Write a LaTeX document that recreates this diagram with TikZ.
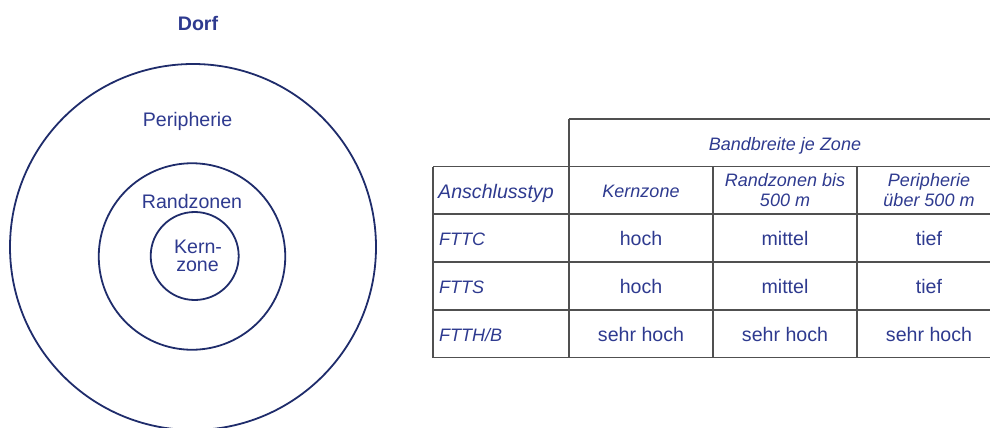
\documentclass[tikz,border=0pt]{standalone}
\usepackage{fontspec}
\setmainfont{Liberation Sans}
\definecolor{ink}{HTML}{2E3A8F}
\definecolor{ring}{HTML}{1F2C6B}
\definecolor{rule}{HTML}{505050}
\begin{document}
\begin{tikzpicture}[x=1pt,y=-1pt,
  lbl/.style={text=ink,font=\fontsize{19.6}{20}\selectfont,inner sep=0pt,anchor=base},
  hd/.style={lbl,font=\fontsize{18}{20}\selectfont\itshape},
  rowhd/.style={hd,anchor=base west},
  zone/.style={draw=ring,line width=1.8pt,circle,inner sep=0pt},
  grid/.style={draw=rule,line width=1.5pt}]
\useasboundingbox (0,0) rectangle (990,428);

% village zones
\node[zone,minimum size=366pt] (outer) at (193,247) {};
\node[zone,minimum size=186.5pt] (middle) at (192,256.5) {};
\node[zone,minimum size=88pt] (inner) at (194.7,256) {};
\node[lbl,font=\fontsize{19.6}{20}\selectfont\bfseries] (dorf) at (198,30.7) {Dorf};
\node[lbl] (peri) at (187.5,126) {Peripherie};
\node[lbl] (rand) at (192,208) {Randzonen};
\node[lbl] (kern1) at (198,253) {Kern-};
\node[lbl] (kern2) at (197.5,271) {zone};

% table rules
\draw[grid] (569,119) -- (1001,119);
\draw[grid] (433,166.5) -- (1001,166.5);
\foreach \y in {214,262,310,357.5} \draw[grid] (433,\y) -- (1001,\y);
\draw[grid] (433,166.5) -- (433,357.5);
\draw[grid] (569,119) -- (569,357.5);
\draw[grid] (713,166.5) -- (713,357.5);
\draw[grid] (857,166.5) -- (857,357.5);

% table header
\node[hd] (bw) at (785,150) {Bandbreite je Zone};
\node[rowhd,font=\fontsize{19.6}{20}\selectfont\itshape] (typ) at (438,198) {Anschlusstyp};
\node[hd] (hk) at (641,197.5) {Kernzone};
\node[hd] (hr1) at (785,186) {Randzonen bis};
\node[hd] (hr2) at (785,206.5) {500 m};
\node[hd] (hp1) at (929,186) {Peripherie};
\node[hd] (hp2) at (929,206.5) {über 500 m};

% table body
\node[rowhd] (r1) at (439,245) {FTTC};
\node[lbl] (r1a) at (641,245) {hoch};
\node[lbl] (r1b) at (785,245) {mittel};
\node[lbl] (r1c) at (929,245) {tief};
\node[rowhd] (r2) at (439,293) {FTTS};
\node[lbl] (r2a) at (641,293) {hoch};
\node[lbl] (r2b) at (785,293) {mittel};
\node[lbl] (r2c) at (929,293) {tief};
\node[rowhd] (r3) at (439,341) {FTTH/B};
\node[lbl] (r3a) at (641,341) {sehr hoch};
\node[lbl] (r3b) at (785,341) {sehr hoch};
\node[lbl] (r3c) at (929,341) {sehr hoch};
\end{tikzpicture}
\end{document}
